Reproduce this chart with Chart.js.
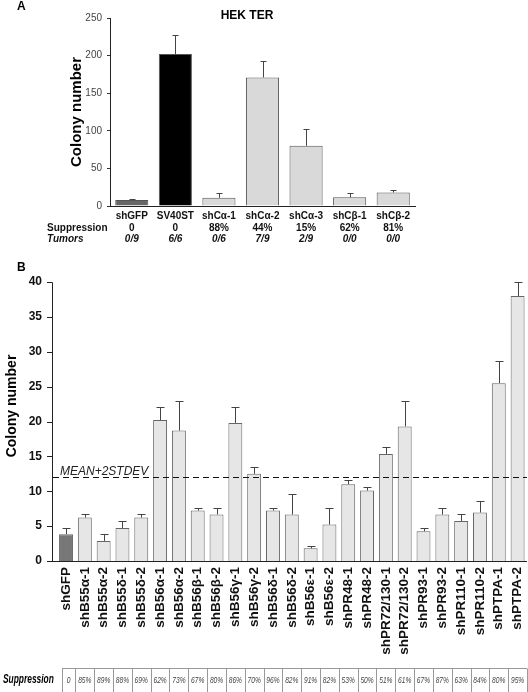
<!DOCTYPE html>
<html><head><meta charset="utf-8">
<script src="https://cdn.jsdelivr.net/npm/chart.js@4.4.1/dist/chart.umd.min.js"></script>
<style>
html,body{margin:0;padding:0;background:#fff;}
#wrap{position:relative;width:528px;height:692px;overflow:hidden;background:#fff;}
#ca{position:absolute;left:0;top:0;}
#cb{position:absolute;left:0;top:255px;}
</style></head><body>
<div id="wrap"><canvas id="ca" width="528" height="255"></canvas><canvas id="cb" width="528" height="437"></canvas></div>
<script>
// ---------- DATA ----------
const categoriesA = ['shGFP', 'SV40ST', 'shCα-1', 'shCα-2', 'shCα-3', 'shCβ-1', 'shCβ-2'];
const colonyA = [8, 202, 11, 171, 80, 11.5, 18];
const errorA = [1.8, 25, 6, 22, 22, 5.5, 2.8];
const suppressionA = ['0', '0', '88%', '44%', '15%', '62%', '81%'];
const tumorsA = ['0/9', '6/6', '0/6', '7/9', '2/9', '0/0', '0/0'];
const yTicksA = [0, 50, 100, 150, 200, 250];

const categoriesB = ['shGFP', 'shB55α-1', 'shB55α-2', 'shB55δ-1', 'shB55δ-2', 'shB56α-1', 'shB56α-2',
  'shB56β-1', 'shB56β-2', 'shB56γ-1', 'shB56γ-2', 'shB56δ-1', 'shB56δ-2', 'shB56ε-1', 'shB56ε-2',
  'shPR48-1', 'shPR48-2', 'shPR72/130-1', 'shPR72/130-2', 'shPR93-1', 'shPR93-2', 'shPR110-1',
  'shPR110-2', 'shPTPA-1', 'shPTPA-2'];
const colonyB = [3.85, 6.23, 2.88, 4.74, 6.23, 20.2, 18.7, 7.24, 6.67, 19.8, 12.5, 7.24, 6.67, 1.82, 5.23,
  11.0, 10.1, 15.35, 19.3, 4.27, 6.67, 5.75, 6.95, 25.5, 38.0];
const errorB = [0.9, 0.48, 0.96, 1.0, 0.48, 1.9, 4.3, 0.43, 1.0, 2.3, 1.0, 0.43, 2.9, 0.38, 2.44,
  0.6, 0.5, 1.05, 3.7, 0.48, 1.0, 1.05, 1.65, 3.2, 2.05];
const suppressionB = ['0', '85%', '89%', '88%', '69%', '62%', '73%', '67%', '80%', '86%', '70%', '96%', '82%',
  '91%', '82%', '53%', '50%', '51%', '61%', '67%', '87%', '63%', '84%', '80%', '95%'];
const yTicksB = [0, 5, 10, 15, 20, 25, 30, 35, 40];
const thresholdB = 12;

// ---------- STYLE ----------
const FONT = "'Liberation Sans', Arial, Helvetica, sans-serif";
const fillA = categoriesA.map((c, i) => i === 0 ? '#666666' : (i === 1 ? '#000000' : '#d9d9d9'));
const fillB = categoriesB.map((c, i) => i === 0 ? '#777777' : '#e6e6e6');

function narrowText(ctx, text, x, y, sx) {
  ctx.save();
  ctx.translate(x, y);
  ctx.scale(sx, 1);
  ctx.fillText(text, 0, 0);
  ctx.restore();
}

function errorBars(errors, capW) {
  return {
    id: 'errbars',
    afterDatasetsDraw(chart) {
      const ctx = chart.ctx, meta = chart.getDatasetMeta(0), ys = chart.scales.y;
      const vals = chart.data.datasets[0].data;
      ctx.save();
      ctx.strokeStyle = '#444'; ctx.lineWidth = 1;
      meta.data.forEach((bar, i) => {
        const x = Math.round(bar.x) + 0.5;
        const y0 = ys.getPixelForValue(vals[i]);
        const y1 = Math.round(ys.getPixelForValue(vals[i] + errors[i])) + 0.5;
        ctx.beginPath();
        ctx.moveTo(x, y0); ctx.lineTo(x, y1);
        ctx.moveTo(x - capW / 2, y1); ctx.lineTo(x + capW / 2, y1);
        ctx.stroke();
      });
      ctx.restore();
    }
  };
}

// ---------- CHART A ----------
const annotA = {
  id: 'annotA',
  afterDraw(chart) {
    const ctx = chart.ctx, xs = chart.scales.x, ca = chart.chartArea;
    ctx.save();
    ctx.fillStyle = '#000';
    ctx.textAlign = 'left'; ctx.textBaseline = 'top';
    ctx.font = 'bold 12px ' + FONT;
    ctx.fillText('A', 17, 1);
    ctx.textAlign = 'center'; ctx.textBaseline = 'middle';
    ctx.font = 'bold 12px ' + FONT;
    ctx.fillText('HEK TER', 247, 16);
    ctx.save();
    ctx.translate(77, (ca.top + ca.bottom) / 2);
    ctx.rotate(-Math.PI / 2);
    ctx.font = 'bold 15px ' + FONT;
    ctx.fillText('Colony number', 0, 0);
    ctx.restore();
    ctx.fillStyle = '#111';
    ctx.textAlign = 'left';
    ctx.font = 'bold 10px ' + FONT;
    ctx.fillText('Suppression', 47, 228);
    ctx.font = 'italic bold 10px ' + FONT;
    ctx.fillText('Tumors', 47, 239.5);
    ctx.textAlign = 'center';
    categoriesA.forEach((c, i) => {
      const x = xs.getPixelForValue(i);
      ctx.font = 'bold 10px ' + FONT;
      ctx.fillText(suppressionA[i], x, 228);
      ctx.font = 'italic bold 10px ' + FONT;
      ctx.fillText(tumorsA[i], x, 239.5);
    });
    ctx.restore();
  }
};

new Chart(document.getElementById('ca'), {
  type: 'bar',
  data: {
    labels: categoriesA,
    datasets: [{ data: colonyA, backgroundColor: fillA, borderColor: '#555', borderWidth: 1,
      barPercentage: 0.76, categoryPercentage: 1 }]
  },
  options: {
    responsive: false, animation: false, devicePixelRatio: 1,
    layout: { padding: { top: 18, right: 113, left: 0, bottom: 0 } },
    plugins: { legend: { display: false }, tooltip: { enabled: false } },
    scales: {
      x: {
        grid: { display: false, drawTicks: false },
        border: { display: true, color: '#222', width: 1 },
        ticks: { font: { family: FONT, size: 10, weight: 'bold' }, color: '#111', padding: 4,
          maxRotation: 0, autoSkip: false },
        afterFit(s) { s.height = 49; s.paddingLeft = 0; s.paddingRight = 0; }
      },
      y: {
        min: yTicksA[0], max: yTicksA[yTicksA.length - 1],
        afterBuildTicks(s) { s.ticks = yTicksA.map(v => ({ value: v })); },
        ticks: { font: { family: FONT, size: 10 }, color: '#444', padding: 5 },
        grid: { display: true, drawOnChartArea: false, drawTicks: true, tickLength: 3, color: '#333' },
        border: { display: true, color: '#222', width: 1 },
        afterFit(s) { s.width = 110; s.paddingTop = 0; s.paddingBottom = 0; }
      }
    }
  },
  plugins: [errorBars(errorA, 6), annotA]
});

// ---------- CHART B ----------
const annotB = {
  id: 'annotB',
  afterDraw(chart) {
    const ctx = chart.ctx, xs = chart.scales.x, ys = chart.scales.y;
    ctx.save();
    ctx.strokeStyle = '#222'; ctx.lineWidth = 1;
    const axX = 52.5, y0 = Math.round(ys.getPixelForValue(0)) + 0.5;
    const yTop = Math.round(ys.getPixelForValue(yTicksB[yTicksB.length - 1])) + 0.5;
    ctx.beginPath();
    ctx.moveTo(axX, yTop); ctx.lineTo(axX, y0);
    ctx.moveTo(52, y0); ctx.lineTo(527, y0);
    yTicksB.forEach(v => {
      const yy = Math.round(ys.getPixelForValue(v)) + 0.5;
      ctx.moveTo(47, yy); ctx.lineTo(axX, yy);
    });
    ctx.stroke();
    const yt = Math.round(ys.getPixelForValue(thresholdB)) + 0.5;
    ctx.setLineDash([6, 4]); ctx.lineWidth = 1.2; ctx.strokeStyle = '#111';
    ctx.beginPath(); ctx.moveTo(53, yt); ctx.lineTo(527, yt); ctx.stroke();
    ctx.setLineDash([]);
    ctx.fillStyle = '#222';
    ctx.font = 'italic 12px ' + FONT;
    ctx.textAlign = 'left'; ctx.textBaseline = 'alphabetic';
    ctx.fillText('MEAN+2STDEV', 60, yt - 2.5);
    ctx.fillStyle = '#000';
    ctx.font = 'bold 12px ' + FONT;
    ctx.textBaseline = 'top';
    ctx.fillText('B', 17, 7);
    ctx.save();
    ctx.translate(12, 151);
    ctx.rotate(-Math.PI / 2);
    ctx.textAlign = 'center'; ctx.textBaseline = 'middle';
    ctx.font = 'bold 14px ' + FONT;
    ctx.fillText('Colony number', 0, 0);
    ctx.restore();
    // suppression table
    const top = 413.5, bottom = 445;
    const centers = categoriesB.map((c, i) => xs.getPixelForValue(i));
    const bounds = [62];
    for (let i = 1; i < centers.length; i++) bounds.push((centers[i - 1] + centers[i]) / 2);
    bounds.push(527);
    ctx.strokeStyle = '#999'; ctx.lineWidth = 1;
    ctx.beginPath();
    ctx.moveTo(bounds[0], top); ctx.lineTo(bounds[bounds.length - 1], top);
    bounds.forEach(b => { const bx = Math.round(b) + 0.5; ctx.moveTo(bx, top); ctx.lineTo(bx, bottom); });
    ctx.stroke();
    ctx.fillStyle = '#444';
    ctx.font = 'italic 9.5px ' + FONT;
    ctx.textAlign = 'center'; ctx.textBaseline = 'middle';
    suppressionB.forEach((s, i) => narrowText(ctx, s, (bounds[i] + bounds[i + 1]) / 2, 425, 0.7));
    ctx.fillStyle = '#000';
    ctx.font = 'italic bold 12px ' + FONT;
    ctx.textAlign = 'left';
    narrowText(ctx, 'Suppression', 3, 425, 0.7);
    ctx.restore();
  }
};

new Chart(document.getElementById('cb'), {
  type: 'bar',
  data: {
    labels: categoriesB,
    datasets: [{ data: colonyB, backgroundColor: fillB, borderColor: '#666', borderWidth: 1,
      barPercentage: 0.74, categoryPercentage: 1 }]
  },
  options: {
    responsive: false, animation: false, devicePixelRatio: 1,
    layout: { padding: { top: 27, right: 1, left: 0, bottom: 0 } },
    plugins: { legend: { display: false }, tooltip: { enabled: false } },
    scales: {
      x: {
        grid: { display: false, drawTicks: false },
        border: { display: false },
        ticks: { font: { family: FONT, size: 13.5, weight: 'bold' }, color: '#111', padding: 6,
          minRotation: 90, maxRotation: 90, autoSkip: false },
        afterFit(s) { s.height = 131; s.paddingLeft = 0; s.paddingRight = 0; }
      },
      y: {
        min: yTicksB[0], max: yTicksB[yTicksB.length - 1],
        afterBuildTicks(s) { s.ticks = yTicksB.map(v => ({ value: v })); },
        ticks: { font: { family: FONT, size: 12, weight: 'bold' }, color: '#111', padding: 14.6 },
        grid: { display: false, drawTicks: false },
        border: { display: false },
        afterFit(s) { s.width = 56.6; s.paddingTop = 0; s.paddingBottom = 0; }
      }
    }
  },
  plugins: [errorBars(errorB, 8), annotB]
});
</script>
</body></html>
